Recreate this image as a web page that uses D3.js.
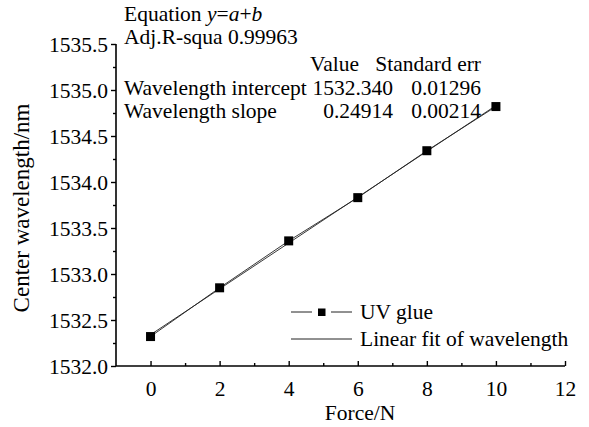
<!DOCTYPE html>
<html>
<head>
<meta charset="utf-8">
<script src="https://cdn.jsdelivr.net/npm/d3@7"></script>
<style>
  html, body { margin: 0; padding: 0; background: #fff; }
  svg { display: block; }
  text { font-family: "Liberation Serif", "Times New Roman", serif; fill: #000; }
</style>
</head>
<body>
<svg id="chart" width="589" height="427"></svg>
<script>
// Measured centre wavelength of the grating under load
const force = [0, 2, 4, 6, 8, 10];
const wavelength = [1532.32, 1532.85, 1533.36, 1533.83, 1534.34, 1534.82];

// Linear fit parameters
const fitIntercept = 1532.340;
const fitSlope = 0.24914;
const fitRange = [0, 10];

const xTicks = [0, 2, 4, 6, 8, 10, 12];
const yTicks = [1532.0, 1532.5, 1533.0, 1533.5, 1534.0, 1534.5, 1535.0, 1535.5];

const seriesNames = ["UV glue", "Linear fit of wavelength"];

const svg = d3.select("#chart");
const FS = 21.5;

const x = d3.scaleLinear().domain([-1, 12]).range([116, 565]);
const y = d3.scaleLinear().domain([1532.0, 1535.5]).range([366, 44]);

const isMajorY = d => yTicks.some(t => Math.abs(t - d) < 1e-6);

// x axis: ticks pointing into the plot
const xAxis = d3.axisBottom(x)
  .tickValues(d3.range(0, 12.01, 1))
  .tickSize(-5)
  .tickFormat(d => xTicks.includes(d) ? d3.format("d")(d) : "");
const gx = svg.append("g").attr("transform", `translate(0,${y(1532.0)})`).call(xAxis);
gx.select(".domain").attr("d", `M${x(-1)},0H${x(12)}`).attr("stroke", "#000").attr("stroke-width", 1.6);
gx.selectAll(".tick line").attr("stroke", "#000").attr("stroke-width", 1.4)
  .attr("y2", d => xTicks.includes(d) ? -5 : -3);
gx.selectAll(".tick text").attr("y", 15).attr("dy", "0.71em")
  .style("font-size", FS + "px").style("font-family", "Liberation Serif");

// y axis: ticks pointing outward
const yAxis = d3.axisLeft(y)
  .tickValues(d3.range(1532.0, 1535.51, 0.25))
  .tickSize(5)
  .tickFormat(d => isMajorY(d) ? d3.format(".1f")(d) : "");
const gy = svg.append("g").attr("transform", `translate(${x(-1)},0)`).call(yAxis);
gy.select(".domain").attr("d", `M0,${y(1532.0)}V${y(1535.5)}`).attr("stroke", "#000").attr("stroke-width", 1.6);
gy.selectAll(".tick line").attr("stroke", "#000").attr("stroke-width", 1.4)
  .attr("x2", d => isMajorY(d) ? -5 : -3);
gy.selectAll(".tick text").attr("x", -8).attr("dy", "0.36em")
  .style("font-size", FS + "px").style("font-family", "Liberation Serif");

// axis titles
svg.append("text").attr("x", 360).attr("y", 420)
  .attr("text-anchor", "middle").style("font-size", FS + "px").text("Force/N");
svg.append("text").attr("transform", `translate(29,${(y(1532) + y(1535.5)) / 2 + 3}) rotate(-90)`)
  .attr("text-anchor", "middle").style("font-size", "23px").text("Center wavelength/nm");

// fit line
const fitLine = d3.line().x(d => x(d)).y(d => y(fitIntercept + fitSlope * d));
svg.append("path").datum(fitRange).attr("d", fitLine)
  .attr("fill", "none").attr("stroke", "#222").attr("stroke-width", 0.9);

// measured series
const pts = force.map((f, i) => [f, wavelength[i]]);
svg.append("path").datum(pts)
  .attr("d", d3.line().x(d => x(d[0])).y(d => y(d[1])))
  .attr("fill", "none").attr("stroke", "#222").attr("stroke-width", 0.9);
svg.append("g").selectAll("rect").data(pts).join("rect")
  .attr("x", d => x(d[0]) - 4.5).attr("y", d => y(d[1]) - 4.5)
  .attr("width", 9).attr("height", 9).attr("fill", "#000");

// fit summary text
const stats = svg.append("g").style("font-size", FS + "px");
const eq = stats.append("text").attr("x", 124).attr("y", 21);
eq.append("tspan").text("Equation ");
eq.append("tspan").style("font-style", "italic").text("y");
eq.append("tspan").text("=");
eq.append("tspan").style("font-style", "italic").text("a");
eq.append("tspan").text("+");
eq.append("tspan").style("font-style", "italic").text("b");
stats.append("text").attr("x", 124).attr("y", 44).text("Adj.R-squa 0.99963");

const tableRows = [
  ["", "Value", "Standard err"],
  ["Wavelength intercept", d3.format(".3f")(fitIntercept), "0.01296"],
  ["Wavelength slope", d3.format(".5f")(fitSlope), "0.00214"]
];
const rowY = [71, 95, 118];
tableRows.forEach((r, i) => {
  stats.append("text").attr("x", 124).attr("y", rowY[i]).text(r[0]);
  stats.append("text").attr("x", i === 0 ? 359 : 393).attr("y", rowY[i])
    .attr("text-anchor", "end").text(r[1]);
  stats.append("text").attr("x", 481).attr("y", rowY[i])
    .attr("text-anchor", "end").text(r[2]);
});

// legend
const leg = svg.append("g").style("font-size", FS + "px");
const l1y = 312, l2y = 339;
leg.append("line").attr("x1", 291).attr("x2", 312).attr("y1", l1y).attr("y2", l1y).attr("stroke", "#222");
leg.append("line").attr("x1", 331).attr("x2", 352).attr("y1", l1y).attr("y2", l1y).attr("stroke", "#222");
leg.append("rect").attr("x", 318).attr("y", l1y - 3.5).attr("width", 7.5).attr("height", 7.5).attr("fill", "#000");
leg.append("text").attr("x", 360).attr("y", l1y + 7).text(seriesNames[0]);
leg.append("line").attr("x1", 291).attr("x2", 352).attr("y1", l2y).attr("y2", l2y).attr("stroke", "#222");
leg.append("text").attr("x", 360).attr("y", l2y + 7).text(seriesNames[1]);
</script>
</body>
</html>
